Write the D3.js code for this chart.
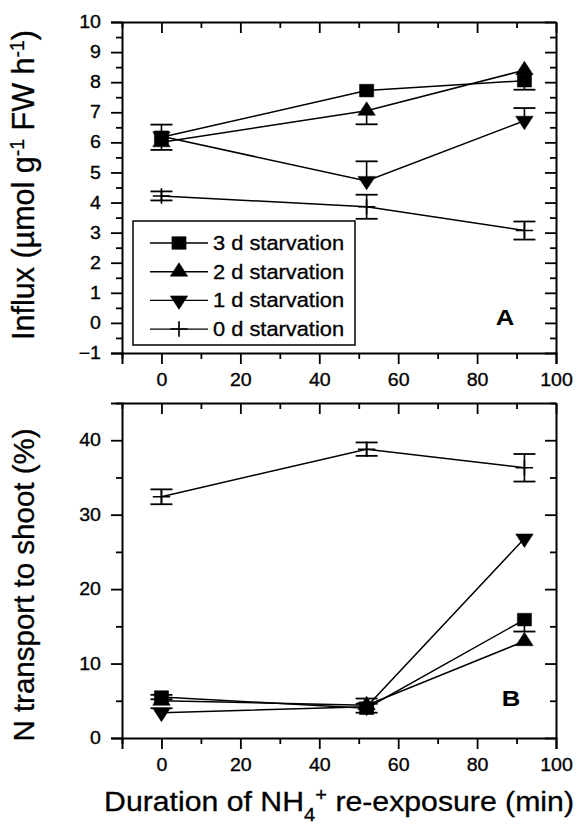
<!DOCTYPE html>
<html>
<head>
<meta charset="utf-8">
<script src="https://cdn.jsdelivr.net/npm/d3@7"></script>
<style>
  body { margin: 0; background: #fff; }
  svg { font-family: "Liberation Sans", Arial, sans-serif; }
  .domain { stroke-width: 2px; }
  .tick line { stroke-width: 1.8px; }
</style>
</head>
<body>
<div id="chart"></div>
<script>
// Chart data
var minutes = [0, 52, 92];
var seriesNames = ["3 d starvation", "2 d starvation", "1 d starvation", "0 d starvation"];

// Panel A: influx (umol g-1 FW h-1)
var influx3d = [6.17, 7.72, 8.05];
var influx2d = [6.0, 7.05, 8.4];
var influx1d = [6.2, 4.72, 6.72];
var influx0d = [4.22, 3.86, 3.07];
var influxErrHi = [[0.42, 0, 0], [0, 0, 0], [0, 0.65, 0.42], [0.15, 0.4, 0.3]];
var influxErrLo = [[0.42, 0, 0.3], [0, 0.45, 0], [0, 0, 0], [0.15, 0.4, 0.3]];

// Panel B: N transport to shoot (%)
var shoot3d = [5.5, 4.0, 15.9];
var shoot2d = [5.0, 4.4, 13.0];
var shoot1d = [3.4, 4.2, 26.8];
var shoot0d = [32.4, 38.8, 36.3];
var shootErrHi = [[0.3, 0.6, 0], [0, 0.9, 0], [0.6, 0, 0], [1.0, 0.9, 1.85]];
var shootErrLo = [[0.3, 0.6, 1.6], [0, 0, 0], [0, 0, 0], [1.0, 0.9, 1.85]];

// Tick values
var xTicks = [0, 20, 40, 60, 80, 100];
var xMinor = [-10, 10, 30, 50, 70, 90];
var influxTicks = [-1, 0, 1, 2, 3, 4, 5, 6, 7, 8, 9, 10];
var influxMinor = [-0.5, 0.5, 1.5, 2.5, 3.5, 4.5, 5.5, 6.5, 7.5, 8.5, 9.5];
var shootTicks = [0, 10, 20, 30, 40];
var shootMinor = [5, 15, 25, 35, 45];

var svgWidth = 577;
var svgHeight = 838;
var stretch = 1.12; // the scanned figure is a little wider than tall

var svg = d3.select("#chart")
  .append("svg")
  .attr("width", svgWidth)
  .attr("height", svgHeight);

var plotLeft = 122, plotRight = 556;

var xScale = d3.scaleLinear().domain([-10, 100]).range([plotLeft, plotRight]);

var symbolFor = [
  { type: d3.symbolSquare, size: 160, rotate: 0, fill: "#000" },
  { type: d3.symbolTriangle, size: 105, rotate: 0, fill: "#000" },
  { type: d3.symbolTriangle, size: 105, rotate: 180, fill: "#000" },
  { type: d3.symbolPlus, size: 80, rotate: 0, fill: "none" }
];

function drawSymbol(g, k, x, y) {
  var s = symbolFor[k];
  g.append("path")
    .attr("d", d3.symbol().type(s.type).size(s.size)())
    .attr("transform", `translate(${x},${y}) scale(${stretch},1) rotate(${s.rotate})`)
    .attr("fill", s.fill)
    .attr("stroke", "#000")
    .attr("stroke-width", s.fill === "none" ? 1.5 : 0.5);
}

function styleLabels(a) {
  a.selectAll("text")
    .attr("font-size", 17.5)
    .attr("fill", "#000")
    .attr("stroke", "#000")
    .attr("stroke-width", 0.3);
}

function drawPanel(top, bottom, domain, ticks, minor, series, errHi, errLo) {
  var yScale = d3.scaleLinear().domain(domain).range([bottom, top]);
  var g = svg.append("g");

  // Main axes (outward ticks with labels)
  g.append("g")
    .attr("transform", `translate(0,${bottom})`)
    .call(d3.axisBottom(xScale).tickValues(xTicks).tickSize(11).tickPadding(10))
    .call(styleLabels)
    .call(a => a.selectAll("text").attr("transform", `scale(${stretch},1)`)
      .attr("x", 0));
  g.append("g")
    .attr("transform", `translate(0,${bottom})`)
    .call(d3.axisBottom(xScale).tickValues(xMinor).tickSize(6).tickFormat(""))
    .call(a => a.select(".domain").remove());
  g.append("g")
    .attr("transform", `translate(${plotLeft},0)`)
    .call(d3.axisLeft(yScale).tickValues(ticks).tickSize(11).tickPadding(3))
    .call(styleLabels)
    .call(a => a.selectAll("text").attr("transform", `translate(-21,0) scale(${stretch},1)`)
      .attr("x", 0));
  g.append("g")
    .attr("transform", `translate(${plotLeft},0)`)
    .call(d3.axisLeft(yScale).tickValues(minor).tickSize(6).tickFormat(""))
    .call(a => a.select(".domain").remove());

  // Mirror axes (inward ticks, no labels)
  g.append("g")
    .attr("transform", `translate(0,${top})`)
    .call(d3.axisTop(xScale).tickValues(xTicks).tickSizeInner(-11).tickSizeOuter(0).tickFormat(""));
  g.append("g")
    .attr("transform", `translate(0,${top})`)
    .call(d3.axisTop(xScale).tickValues(xMinor).tickSize(-6).tickFormat(""))
    .call(a => a.select(".domain").remove());
  g.append("g")
    .attr("transform", `translate(${plotRight},0)`)
    .call(d3.axisRight(yScale).tickValues(ticks).tickSizeInner(-11).tickSizeOuter(0).tickFormat(""));
  g.append("g")
    .attr("transform", `translate(${plotRight},0)`)
    .call(d3.axisRight(yScale).tickValues(minor).tickSize(-6).tickFormat(""))
    .call(a => a.select(".domain").remove());

  var line = d3.line()
    .x((d, i) => xScale(minutes[i]))
    .y(d => yScale(d));

  series.forEach(function(vals, k) {
    g.append("path")
      .datum(vals)
      .attr("d", line)
      .attr("fill", "none")
      .attr("stroke", "#000")
      .attr("stroke-width", 1.5);

    vals.forEach(function(v, i) {
      var x = xScale(minutes[i]);
      var hi = errHi[k][i], lo = errLo[k][i];
      if (hi > 0 || lo > 0) {
        g.append("line")
          .attr("x1", x).attr("x2", x)
          .attr("y1", yScale(v + hi)).attr("y2", yScale(v - lo))
          .attr("stroke", "#000").attr("stroke-width", 1.6);
      }
      [hi, -lo].forEach(function(e) {
        if (e !== 0) {
          g.append("line")
            .attr("x1", x - 11).attr("x2", x + 11)
            .attr("y1", yScale(v + e)).attr("y2", yScale(v + e))
            .attr("stroke", "#000").attr("stroke-width", 1.8);
        }
      });
    });

    vals.forEach(function(v, i) {
      drawSymbol(g, k, xScale(minutes[i]), yScale(v));
    });
  });

  return { g: g, yScale: yScale };
}

var panelA = drawPanel(22, 353, [-1, 10], influxTicks, influxMinor,
  [influx3d, influx2d, influx1d, influx0d], influxErrHi, influxErrLo);
var panelB = drawPanel(403, 738, [0, 45], shootTicks, shootMinor,
  [shoot3d, shoot2d, shoot1d, shoot0d], shootErrHi, shootErrLo);

// Legend in panel A
var legend = panelA.g.append("g");
legend.append("rect")
  .attr("x", 133).attr("y", 221)
  .attr("width", 222).attr("height", 124)
  .attr("fill", "#fff")
  .attr("stroke", "#000")
  .attr("stroke-width", 1.5);
seriesNames.forEach(function(name, k) {
  var ly = 243 + k * 28.7;
  legend.append("line")
    .attr("x1", 150).attr("x2", 208)
    .attr("y1", ly).attr("y2", ly)
    .attr("stroke", "#000").attr("stroke-width", 1.4);
  drawSymbol(legend, k, 179, ly);
  legend.append("text")
    .attr("transform", `translate(213,${ly}) scale(${stretch},1)`)
    .attr("dy", "0.36em")
    .attr("font-size", 19.5)
    .attr("stroke", "#000").attr("stroke-width", 0.3)
    .text(name);
});

// Panel letters
panelA.g.append("text")
  .attr("transform", `translate(505,325) scale(${stretch},1)`)
  .attr("text-anchor", "middle")
  .attr("font-size", 23).attr("font-weight", "bold")
  .text("A");
panelB.g.append("text")
  .attr("transform", `translate(511,706) scale(${stretch},1)`)
  .attr("text-anchor", "middle")
  .attr("font-size", 23).attr("font-weight", "bold")
  .text("B");

// Axis titles
var yTitleA = svg.append("text")
  .attr("transform", `translate(34, 185) rotate(-90)`)
  .attr("text-anchor", "middle")
  .attr("font-size", 30.5)
  .attr("stroke", "#000").attr("stroke-width", 0.3);
yTitleA.append("tspan").text("Influx (\u00b5mol g");
yTitleA.append("tspan").attr("dy", -10).attr("font-size", 19.5).text("-1");
yTitleA.append("tspan").attr("dy", 10).text(" FW h");
yTitleA.append("tspan").attr("dy", -10).attr("font-size", 19.5).text("-1");
yTitleA.append("tspan").attr("dy", 10).text(")");

svg.append("text")
  .attr("transform", `translate(34, 585) rotate(-90)`)
  .attr("text-anchor", "middle")
  .attr("font-size", 29.5)
  .attr("stroke", "#000").attr("stroke-width", 0.3)
  .text("N transport to shoot (%)");

var xTitle = svg.append("text")
  .attr("transform", `translate(339, 811) scale(${stretch},1)`)
  .attr("text-anchor", "middle")
  .attr("font-size", 27)
  .attr("stroke", "#000").attr("stroke-width", 0.3);
xTitle.append("tspan").text("Duration of NH");
xTitle.append("tspan").attr("dy", 10).attr("font-size", 18).text("4");
xTitle.append("tspan").attr("dy", -20).attr("font-size", 18).text("+");
xTitle.append("tspan").attr("dy", 10).text(" re-exposure (min)");
</script>
</body>
</html>
